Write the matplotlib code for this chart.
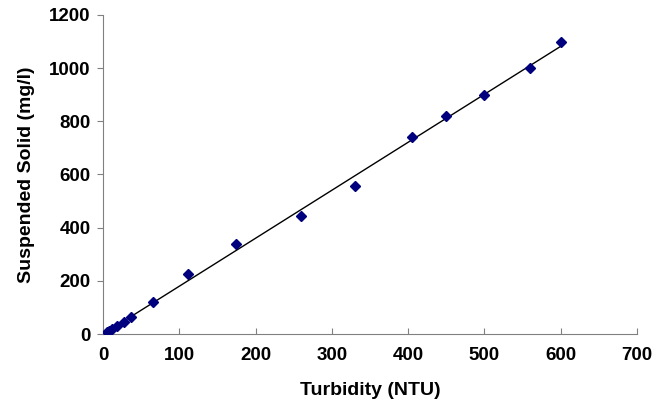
import numpy as np
import matplotlib
matplotlib.use("Agg")
import matplotlib.pyplot as plt

plt.rcParams['font.family'] = ['Liberation Sans', 'DejaVu Sans']

turbidity = [5, 8, 12, 19, 27, 37, 65, 112, 175, 260, 330, 405, 450, 500, 560, 600]
solids = [7, 11, 19, 30, 45, 64, 122, 225, 340, 442, 555, 742, 820, 900, 1000, 1100]

fig = plt.figure(figsize=(6.67, 4.05), dpi=100)
ax = fig.add_axes([0.1544, 0.1753, 0.8006, 0.7877])

# linear fit
k, b = np.polyfit(turbidity, solids, 1)
xs = np.array([min(turbidity), max(turbidity)])
ax.plot(xs, k * xs + b, color='black', lw=1.0)
ax.plot(turbidity, solids, 'D', color='#00007f', markersize=5, zorder=3)

ax.set_xlim(0, 700)
ax.set_ylim(0, 1200)
ax.set_xticks(range(0, 701, 100))
ax.set_yticks(range(0, 1201, 200))
for s in ['top', 'right']:
    ax.spines[s].set_visible(False)
for s in ['left', 'bottom']:
    ax.spines[s].set_color('#808080')
ax.tick_params(colors='#808080', labelcolor='black', labelsize=13.5, length=4, pad=5)
ax.tick_params(axis='x', direction='in', pad=9)
for lab in ax.get_xticklabels() + ax.get_yticklabels():
    lab.set_fontweight('bold')
ax.set_xlabel('Turbidity (NTU)', fontsize=14, fontweight='bold', labelpad=13)
ax.set_ylabel('Suspended Solid (mg/l)', fontsize=14, fontweight='bold', labelpad=10)

fig.savefig('out.png', dpi=100)
